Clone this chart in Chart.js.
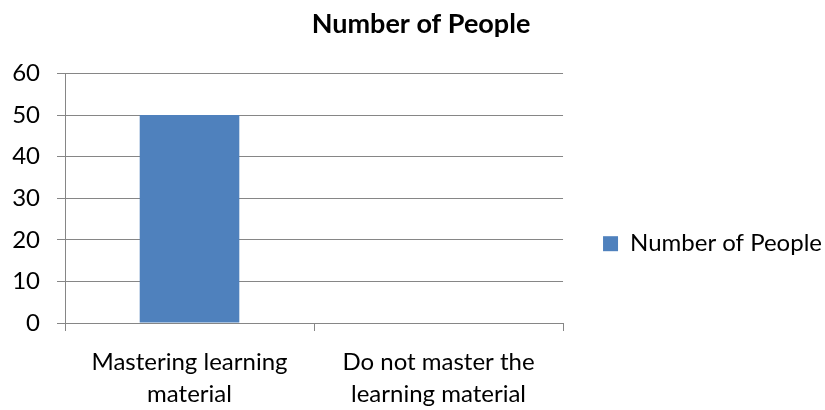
<!DOCTYPE html>
<html>
<head>
<meta charset="utf-8">
<script src="https://cdn.jsdelivr.net/npm/chart.js@4.4.0/dist/chart.umd.min.js"></script>
<style>
  html, body { margin: 0; padding: 0; background: #fff; }
  #wrap { width: 825px; height: 410px; }
</style>
</head>
<body>
<div id="wrap"><canvas id="myChart" width="825" height="410"></canvas></div>
<script>
const categories = [['Mastering learning', 'material'], ['Do not master the', 'learning material']];
const seriesName = 'Number of People';
const peopleValues = [50, 0];
const yTicks = [0, 10, 20, 30, 40, 50, 60];

const gridColor = '#868686';
const barColor = '#4F81BD';
const fontFamily = 'Lato, "Open Sans", sans-serif';

const ctx = document.getElementById('myChart');
const myChart = new Chart(ctx, {
  type: 'bar',
  data: {
    labels: categories,
    datasets: [{
      label: seriesName,
      data: peopleValues,
      backgroundColor: barColor,
      barPercentage: 0.4,
      categoryPercentage: 1.0
    }]
  },
  options: {
    responsive: false,
    animation: false,
    layout: { padding: { top: 8, left: 10, right: -7, bottom: 0 } },
    plugins: {
      title: {
        display: true,
        text: seriesName,
        color: '#000',
        font: { family: fontFamily, size: 27, weight: 'bold', lineHeight: 1.2 },
        padding: { top: 0, bottom: 33 }
      },
      legend: {
        position: 'right',
        maxWidth: 300,
        title: { display: true, text: '', font: { size: 12 }, padding: { top: 55, bottom: 0 } },
        labels: {
          color: '#000',
          boxWidth: 15,
          boxHeight: 15,
          padding: 40,
          font: { family: fontFamily, size: 24 }
        }
      },
      tooltip: { enabled: false }
    },
    scales: {
      x: {
        offset: true,
        afterFit: (axis) => { axis.height = 87; },
        grid: {
          offset: true,
          drawOnChartArea: false,
          color: gridColor,
          tickLength: 8,
          tickColor: gridColor
        },
        border: { color: gridColor },
        ticks: {
          color: '#000',
          padding: 15,
          maxRotation: 0,
          font: { family: fontFamily, size: 24, lineHeight: 1.35 }
        }
      },
      y: {
        min: 0,
        max: 60,
        afterBuildTicks: (axis) => { axis.ticks = yTicks.map(v => ({ value: v })); },
        afterFit: (axis) => { axis.width = 55; },
        grid: {
          color: gridColor,
          tickLength: 8,
          tickColor: gridColor
        },
        border: { color: gridColor },
        ticks: {
          color: '#000',
          padding: 17,
          font: { family: fontFamily, size: 24 }
        }
      }
    }
  }
});
</script>
</body>
</html>
